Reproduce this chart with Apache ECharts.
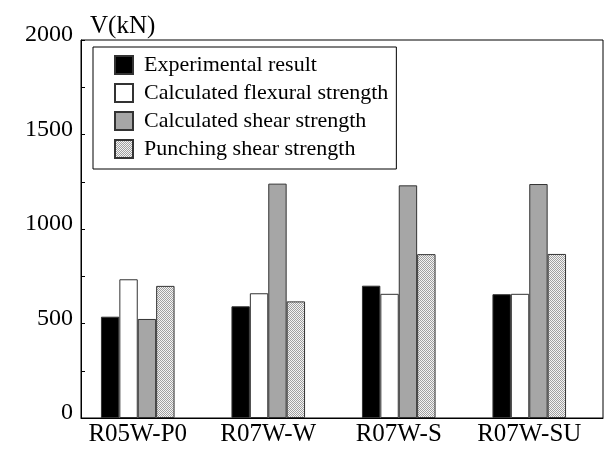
<!DOCTYPE html>
<html>
<head>
<meta charset="utf-8">
<script src="https://cdn.jsdelivr.net/npm/echarts@6/dist/echarts.min.js"></script>
<style>html,body{margin:0;padding:0;background:#fff}#c{width:612px;height:450px}</style>
</head>
<body>
<div id="c"></div>
<script>
const categories = ['R05W-P0', 'R07W-W', 'R07W-S', 'R07W-SU'];
const seriesNames = ['Experimental result', 'Calculated flexural strength', 'Calculated shear strength', 'Punching shear strength'];
const experimental = [536, 591, 700, 655];
const flexural = [734, 660, 657, 657];
const shear = [524, 1240, 1231, 1238];
const punching = [699, 617, 867, 868];
const yTicks = [0, 500, 1000, 1500, 2000];

const FONT = "'Liberation Serif', 'Times New Roman', serif";

const pc = document.createElement('canvas');
pc.width = 2; pc.height = 2;
const pctx = pc.getContext('2d');
pctx.fillStyle = '#f4f4f4'; pctx.fillRect(0, 0, 2, 2);
pctx.fillStyle = '#a0a0a0'; pctx.fillRect(0, 0, 1, 1); pctx.fillRect(1, 1, 1, 1);

const fills = ['#000000', '#ffffff', '#a6a6a6', {image: pc, repeat: 'repeat'}];
const values = [experimental, flexural, shear, punching];

const chart = echarts.init(document.getElementById('c'), null, {renderer: 'canvas'});
chart.setOption({
  animation: false,
  backgroundColor: '#fff',
  grid: [
    {left: 81, top: 40, width: 522, height: 378, show: true, borderColor: '#000', borderWidth: 1, containLabel: false},
    {left: 72.5, top: 40, width: 522, height: 378, containLabel: false}
  ],
  legend: {
    orient: 'vertical', left: 93, top: 47,
    borderColor: '#000', borderWidth: 1, borderRadius: 0,
    padding: [7, 8, 9, 21],
    itemWidth: 18, itemHeight: 18, itemGap: 6,
    icon: 'rect',
    textStyle: {fontFamily: FONT, fontSize: 22, color: '#000', lineHeight: 18, padding: [0, 0, 0, 6]},
    data: seriesNames
  },
  xAxis: [
    {type: 'category', gridIndex: 0, data: categories,
     axisLine: {lineStyle: {color: '#000', width: 1}}, axisTick: {show: false}, axisLabel: {show: false}, splitLine: {show: false}},
    {type: 'category', gridIndex: 1, data: categories,
     axisLine: {show: false}, axisTick: {show: false}, splitLine: {show: false},
     axisLabel: {interval: 0, hideOverlap: false, fontFamily: FONT, fontSize: 25, color: '#000', margin: 4}}
  ],
  yAxis: [
    {type: 'value', gridIndex: 0, min: 0, max: 2000, interval: 500,
     name: 'V(kN)', nameLocation: 'end', nameGap: 14,
     nameTextStyle: {fontFamily: FONT, fontSize: 25, color: '#000', align: 'left', verticalAlign: 'middle', padding: [0, 0, 0, 9]},
     axisLine: {show: true, lineStyle: {color: '#000', width: 1}},
     axisTick: {show: true, inside: true, length: 4, lineStyle: {color: '#000'}},
     minorTick: {show: true, splitNumber: 2, length: 4, lineStyle: {color: '#000'}},
     splitLine: {show: false},
     axisLabel: {fontFamily: FONT, fontSize: 24, color: '#000', margin: 8, verticalAlign: 'bottom', lineHeight: 10,
       formatter: v => yTicks.includes(v) ? String(v) : ''}},
    {type: 'value', gridIndex: 1, min: 0, max: 2000, interval: 500, show: false}
  ],
  series: seriesNames.map((n, i) => ({
    name: n, type: 'bar', xAxisIndex: 1, yAxisIndex: 1,
    barWidth: 18.4, barGap: '0%',
    data: values[i],
    itemStyle: {color: fills[i], borderColor: '#333', borderWidth: 1}
  }))
});
</script>
</body>
</html>
